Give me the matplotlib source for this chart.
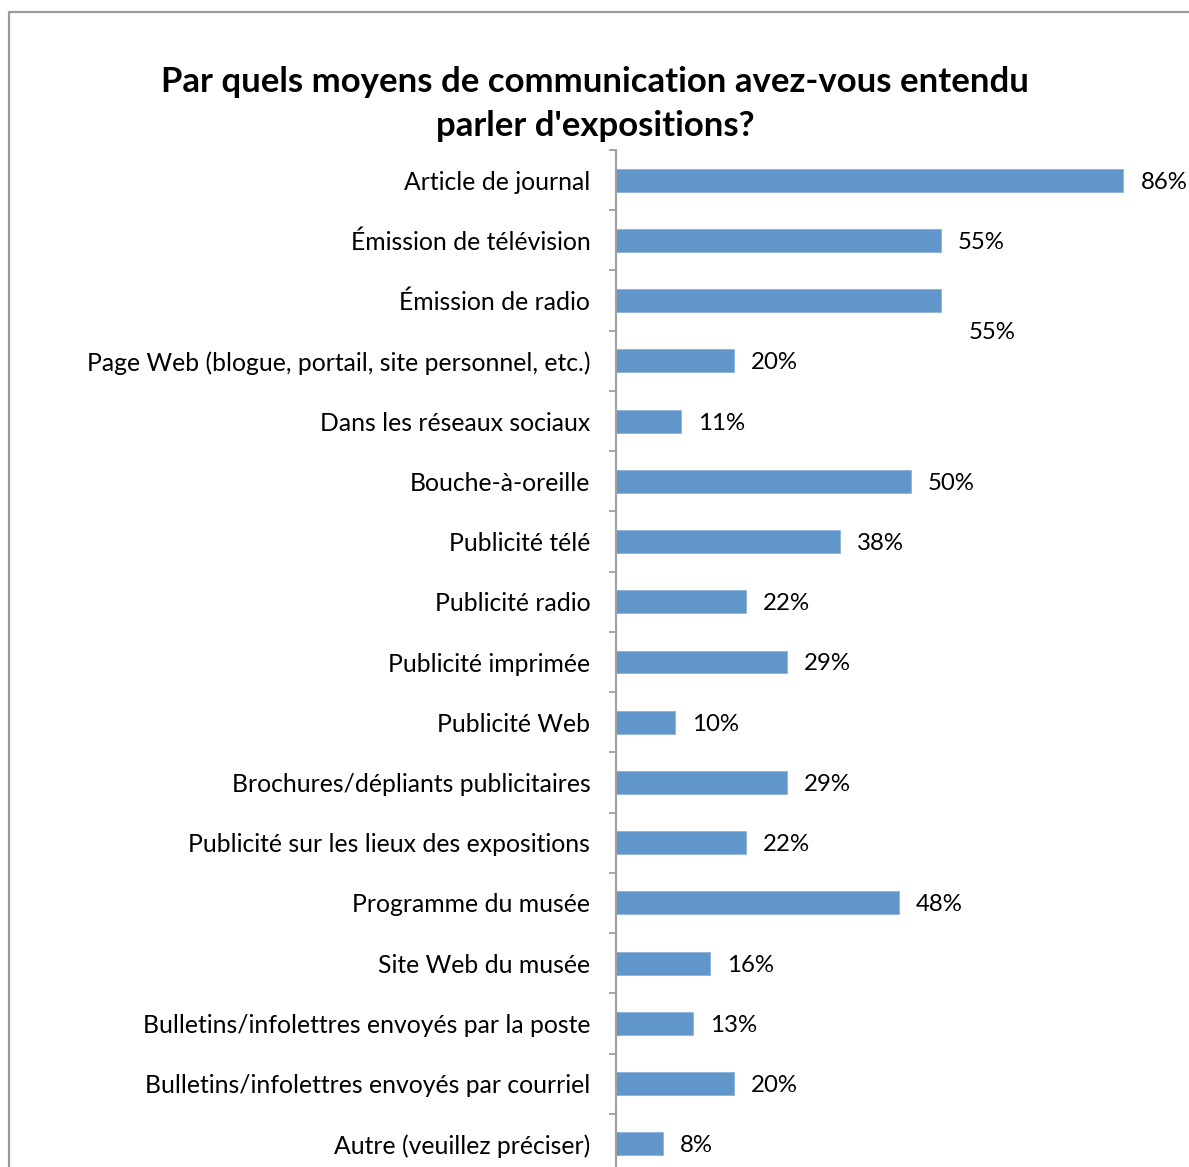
import matplotlib.pyplot as plt
from matplotlib.patches import Rectangle

plt.rcParams['font.family'] = ['Lato', 'DejaVu Sans']

# Data
categories = [
    "Article de journal",
    "Émission de télévision",
    "Émission de radio",
    "Page Web (blogue, portail, site personnel, etc.)",
    "Dans les réseaux sociaux",
    "Bouche-à-oreille",
    "Publicité télé",
    "Publicité radio",
    "Publicité imprimée",
    "Publicité Web",
    "Brochures/dépliants publicitaires",
    "Publicité sur les lieux des expositions",
    "Programme du musée",
    "Site Web du musée",
    "Bulletins/infolettres envoyés par la poste",
    "Bulletins/infolettres envoyés par courriel",
    "Autre (veuillez préciser)",
]
values = [86, 55, 55, 20, 11, 50, 38, 22, 29, 10, 29, 22, 48, 16, 13, 20, 8]
labels = ["86%", "55%", "55%", "20%", "11%", "50%", "38%", "22%", "29%",
          "10%", "29%", "22%", "48%", "16%", "13%", "20%", "8%"]

W, H = 1189, 1167
fig = plt.figure(figsize=(W / 100, H / 100), dpi=100)

# outer chart frame (cropped at right and bottom)
fig.patches.append(Rectangle((9 / W, -0.1), 1.2, (H - 12) / H + 0.1,
                             transform=fig.transFigure, fill=False,
                             edgecolor='#9a9a9a', linewidth=1.6))

# axes placed in pixel units; extends past the bottom/right of the picture
left, top, bottom = 616, 150, 1174
px_per_pct = 5.9
right = left + 100 * px_per_pct
ax = fig.add_axes([left / W, (H - bottom) / H, (right - left) / W, (bottom - top) / H])

n = len(categories)
y = list(range(n))
ax.barh(y, values, height=0.38, color='#6096ca', edgecolor='#8db3da', linewidth=0.6)
ax.set_xlim(0, 100)
ax.set_ylim(n - 0.5, -0.5)

for i, (v, lab) in enumerate(zip(values, labels)):
    if i == 2:
        # this label sits below its bar in the original
        ax.annotate(lab, (v, i), xytext=(28, -30), textcoords='offset pixels',
                    ha='left', va='center_baseline', fontsize=17.3)
    else:
        ax.annotate(lab, (v, i), xytext=(17, 0), textcoords='offset pixels',
                    ha='left', va='center_baseline', fontsize=17.3)

ax.set_yticks([i + 0.5 for i in range(-1, n)], minor=False)
ax.set_yticklabels([])
ax.set_yticks(y, minor=True)
ax.set_yticklabels(categories, minor=True, fontsize=17.8, va='center_baseline')
ax.tick_params(axis='y', which='major', length=5, width=1.3, color='#a0a0a0', left=True)
ax.tick_params(axis='y', which='minor', length=0, pad=18.5)
ax.set_xticks([])

for s in ['top', 'right', 'bottom']:
    ax.spines[s].set_visible(False)
ax.spines['left'].set_color('#a0a0a0')
ax.spines['left'].set_linewidth(1.5)

fig.text(595 / W, 1 - 104 / H,
         "Par quels moyens de communication avez-vous entendu\nparler d'expositions?",
         ha='center', va='center', fontsize=25, fontweight='bold', linespacing=1.5)

fig.savefig('out.png', dpi=100)
